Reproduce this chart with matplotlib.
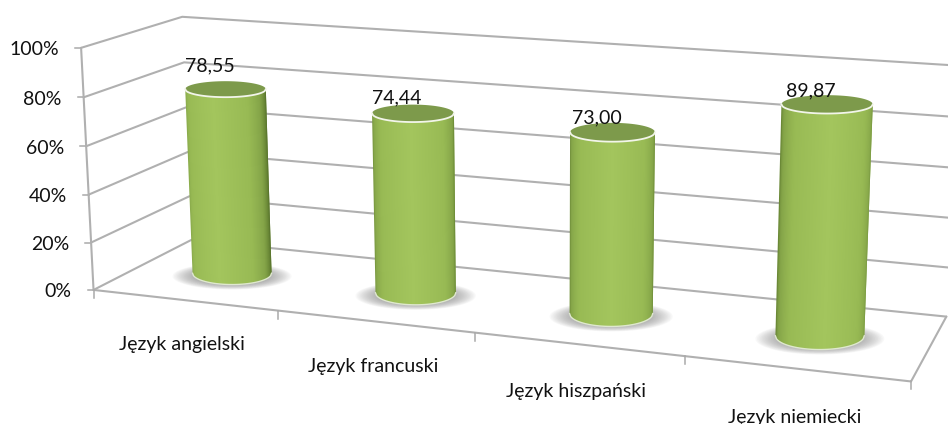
import numpy as np
import matplotlib
matplotlib.use("Agg")
import matplotlib.pyplot as plt
from matplotlib.collections import PolyCollection
from matplotlib.colors import to_rgb

categories = ["Język angielski", "Język francuski", "Język hiszpański", "Język niemiecki"]
values = [78.55, 74.44, 73.00, 89.87]
value_labels = ["78,55", "74,44", "73,00", "89,87"]
y_ticks = [0, 20, 40, 60, 80, 100]
y_tick_labels = ["0%", "20%", "40%", "60%", "80%", "100%"]

# camera calibration: world (u along categories, d depth, v value) -> picture pixels
calib = [
    ((0, 0, 0), (95, 290)), ((0, 0, 100), (80, 48)), ((0, 1, 100), (184, 15)),
    ((0, 1, 0), (190, 245)), ((1, 1, 0), (947, 316)), ((1, 1, 100), (957, 66)),
    ((1, 0, 0), (911, 383)), ((.25, 0, 0), (278, 311)), ((.5, 0, 0), (475, 334)),
    ((.125, .5, 0), (232, 270)), ((.375, .5, 0), (415, 290)),
    ((.625, .5, 0), (611, 312)), ((.875, .5, 0), (820, 335)),
    ((.125, .5, values[0]), (225, 89)), ((.375, .5, values[1]), (413, 114)),
    ((.625, .5, values[2]), (612, 133)), ((.875, .5, values[3]), (828, 105)),
]
A, b = [], []
for (u, d, v), (x, y) in calib:
    w = [u, d, v / 100, 1]
    A.append(w + [0, 0, 0, 0] + [-x * c for c in w[:3]]); b.append(x)
    A.append([0, 0, 0, 0] + w + [-y * c for c in w[:3]]); b.append(y)
p = np.linalg.lstsq(np.array(A, float), np.array(b, float), rcond=None)[0]
P = np.array([p[:4], p[4:8], list(p[8:11]) + [1]])


def proj(u, d, v):
    h = P @ np.array([u, d, v / 100, 1.0])
    return h[0] / h[2], h[1] / h[2]


def line(pts, **kw):
    xy = np.array([proj(*q) for q in pts])
    ax.plot(xy[:, 0], xy[:, 1], **kw)


fig = plt.figure(figsize=(9.48, 4.24), dpi=100)
ax = fig.add_axes([0, 0, 1, 1])
ax.set_xlim(0, 948)
ax.set_ylim(424, 0)
ax.axis("off")

grid = dict(color="#b0b0b0", lw=1.5, solid_capstyle="round", zorder=1)
for t, lab in zip(y_ticks, y_tick_labels):
    line([(0, 0, t), (0, 1, t), (1, 1, t)], **grid)
    x0, y0 = proj(0, 0, t)
    ax.plot([x0 - 6, x0], [y0, y0], color="#a9a9a9", lw=1.1, zorder=1)
    ax.text(x0 - 22, y0 + 2, lab, ha="right", va="center", fontsize=14,
            family="Lato", color="#111111")
line([(0, 0, 0), (0, 0, 100)], **grid)
line([(0, 0, 0), (1, 0, 0), (1, 1, 0)], **grid)
for i in range(len(categories) + 1):
    x0, y0 = proj(i / len(categories), 0, 0)
    ax.plot([x0, x0], [y0, y0 + 8], color="#a9a9a9", lw=1.1, zorder=1)

# shading of the cylinder against the angle from the highlight
shade_ang = [0, 50, 75, 90, 110]
shade_col = np.array([to_rgb(c) for c in ["#a3c55d", "#98ba54", "#84a448", "#6a8836", "#4f6a28"]])
peaks = [-0.3, -0.05, 0.0, 0.1]
label_dy = [-23, -15, -14, -13]
radii = [0.0555, 0.053, 0.0515, 0.0515]
rd = 0.22
n = len(categories)
ts = np.linspace(-1, 1, 81)

for i, (val, txt, cat) in enumerate(zip(values, value_labels, categories)):
    u = (i + .5) / n
    ru = radii[i]
    xb, yb = proj(u, .5, 0)
    xt, yt = proj(u, .5, val)
    hwb = (proj(u + ru, .5, 0)[0] - proj(u - ru, .5, 0)[0]) / 2
    hwt = (proj(u + ru, .5, val)[0] - proj(u - ru, .5, val)[0]) / 2
    hhb = abs(proj(u, .5 - rd, 0)[1] - proj(u, .5 + rd, 0)[1]) / 2
    hht = abs(proj(u, .5 - rd, val)[1] - proj(u, .5 + rd, val)[1]) / 2

    # soft floor shadow
    th = np.linspace(0, 2 * np.pi, 80)
    for s in np.linspace(1, .4, 26):
        ax.fill(xb + (hwb + 20) * s * np.cos(th), yb + 3 + (hhb + 2) * s * np.sin(th),
                color="#707070", alpha=.045, lw=0, zorder=2)

    xbot = xb + hwb * ts
    ybot = yb + hhb * np.sqrt(1 - ts ** 2)
    xtop = xt + hwt * ts
    ytop = yt + hht * np.sqrt(1 - ts ** 2)
    polys, cols = [], []
    ang = np.degrees(np.arcsin(ts))
    ang0 = np.degrees(np.arcsin(peaks[i]))
    for j in range(len(ts) - 1):
        k = min(j + 2, len(ts) - 1)  # overlap the next strip so no seams show
        polys.append([(xtop[j], ytop[j]), (xtop[k], ytop[k]), (xbot[k], ybot[k]), (xbot[j], ybot[j])])
        a = abs((ang[j] + ang[j + 1]) / 2 - ang0)
        cols.append([np.interp(a, shade_ang, shade_col[:, c]) for c in range(3)])
    ax.add_collection(PolyCollection(polys, facecolors=cols, edgecolors="none", zorder=3))

    ax.plot(xbot, ybot, color="#dfe8cf", lw=1.0, zorder=4)
    ax.fill(xt + hwt * np.cos(th), yt + hht * np.sin(th), color="#7d9a4b", lw=0, zorder=4)
    ax.plot(xtop, ytop, color="#f2f5ea", lw=1.3, zorder=5)

    ax.text(xt - 16, yt + label_dy[i], txt, ha="center", va="center", fontsize=14,
            family="Lato", color="#111111", zorder=6)
    xl, yl = proj(u, 0, 0)
    ax.text(xl - 2, yl + 44 + i * 1.5, cat, ha="center", va="center", fontsize=14,
            family="Lato", color="#111111")

fig.savefig("out.png", dpi=100, facecolor="white")
